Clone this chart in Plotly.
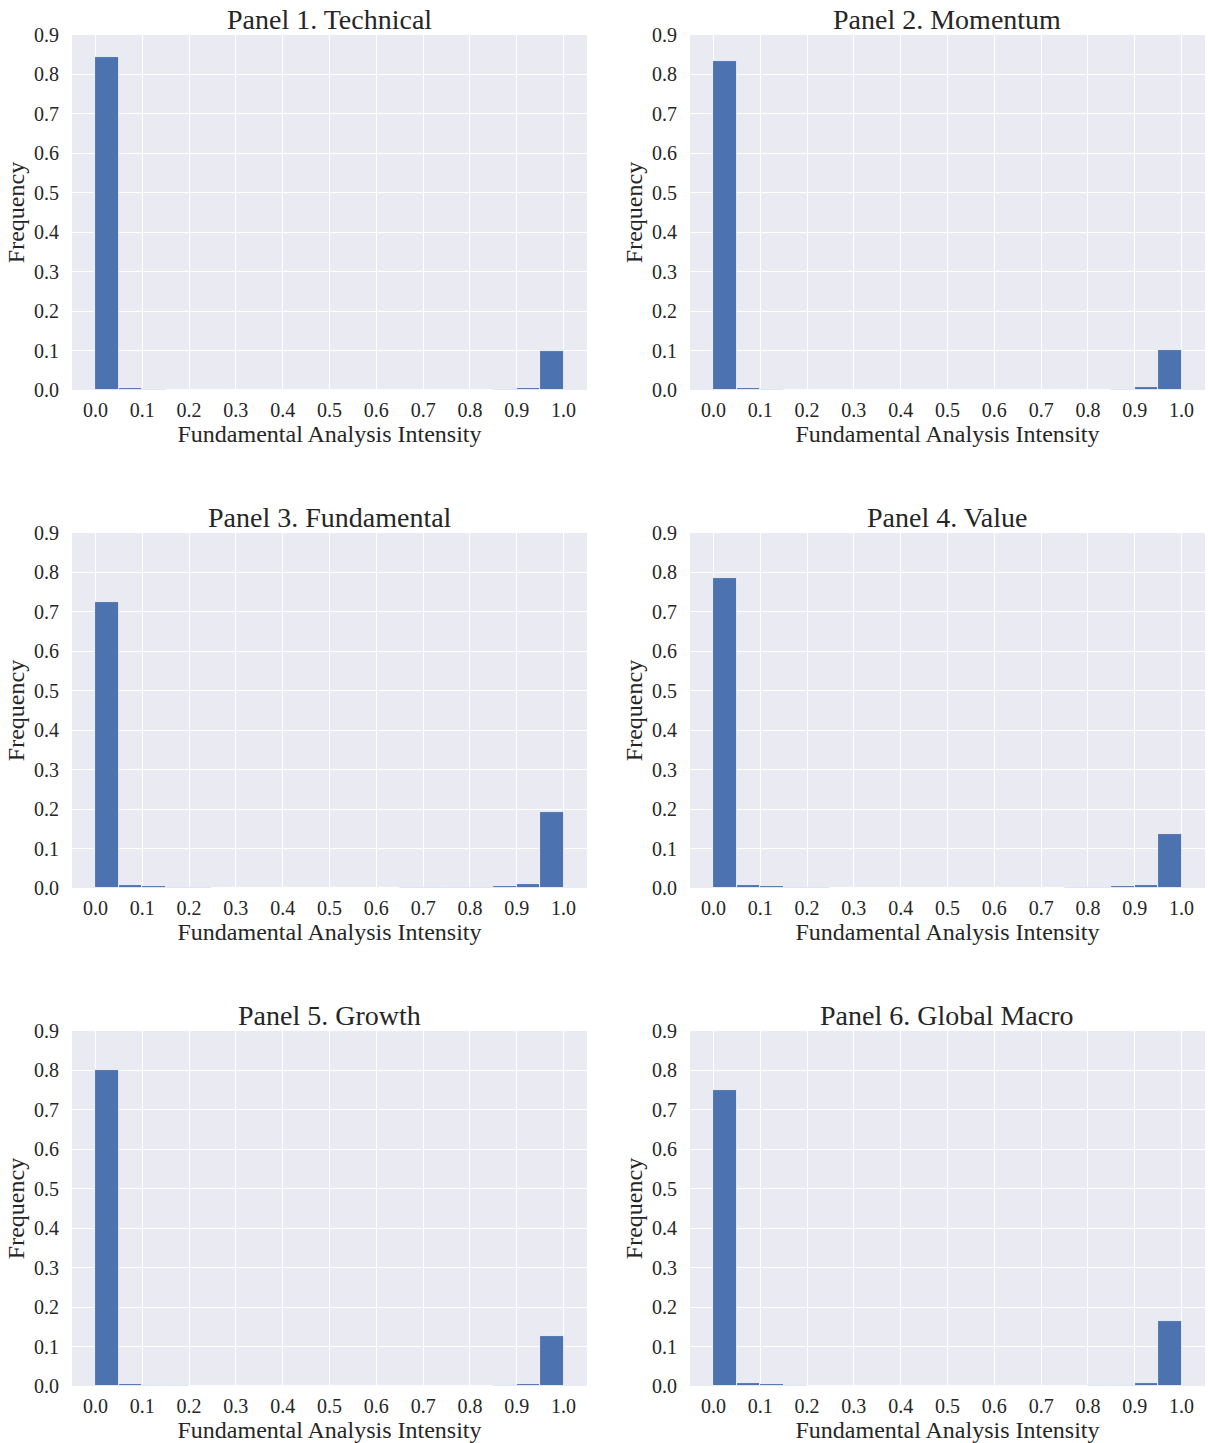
import plotly.graph_objects as go
from plotly.subplots import make_subplots

# ---- data ----
bin_edges = [round(i * 0.05, 2) for i in range(21)]
panel_titles = ["Panel 1. Technical", "Panel 2. Momentum", "Panel 3. Fundamental",
                "Panel 4. Value", "Panel 5. Growth", "Panel 6. Global Macro"]

technical = [0.845, 0.005, 0.003, 0.001, 0.001, 0.0005, 0.0005, 0.0005, 0.0005, 0.0005,
             0.0005, 0.0005, 0.0005, 0.0005, 0.0005, 0.0005, 0.001, 0.002, 0.006, 0.099]
momentum = [0.835, 0.006, 0.003, 0.001, 0.001, 0.0005, 0.0005, 0.0005, 0.0005, 0.0005,
            0.0005, 0.0005, 0.0005, 0.0005, 0.0005, 0.001, 0.001, 0.002, 0.007, 0.102]
fundamental = [0.725, 0.007, 0.004, 0.002, 0.002, 0.001, 0.001, 0.0005, 0.001, 0.001,
               0.0005, 0.001, 0.001, 0.002, 0.002, 0.002, 0.003, 0.005, 0.010, 0.192]
value = [0.787, 0.007, 0.004, 0.002, 0.002, 0.001, 0.0005, 0.0005, 0.0005, 0.0005,
         0.0005, 0.0005, 0.0005, 0.0005, 0.001, 0.002, 0.002, 0.004, 0.008, 0.138]
growth = [0.800, 0.006, 0.003, 0.002, 0.001, 0.001, 0.0005, 0.0005, 0.0005, 0.0005,
          0.0005, 0.0005, 0.0005, 0.0005, 0.0005, 0.001, 0.001, 0.002, 0.006, 0.127]
global_macro = [0.750, 0.008, 0.004, 0.003, 0.001, 0.001, 0.0005, 0.0005, 0.0005, 0.0005,
                0.0005, 0.0005, 0.0005, 0.0005, 0.001, 0.001, 0.002, 0.003, 0.008, 0.165]
series = [technical, momentum, fundamental, value, growth, global_macro]

x_ticks = [round(i * 0.1, 1) for i in range(11)]
y_ticks = [round(i * 0.1, 1) for i in range(10)]

# ---- figure ----
FONT = "Liberation Serif, Times New Roman, serif"
TXT = "#262626"
W, H = 1208, 1443
col_dom = [(72 / W, 587 / W), (690 / W, 1205 / W)]
row_px = [(35, 390), (533, 888), (1031, 1386)]
row_dom = [(1 - b / H, 1 - t / H) for t, b in row_px]

fig = make_subplots(rows=3, cols=2)
centers = [(bin_edges[i] + bin_edges[i + 1]) / 2 for i in range(20)]
widths = [bin_edges[i + 1] - bin_edges[i] for i in range(20)]

for k, vals in enumerate(series):
    r, c = k // 2 + 1, k % 2 + 1
    fig.add_trace(go.Bar(x=centers, y=vals, width=widths,
                         marker=dict(color="#4C72B0", line=dict(color="white", width=0.8)),
                         showlegend=False), row=r, col=c)
    axn = "" if k == 0 else str(k + 1)
    fig.layout["xaxis" + axn].update(
        domain=col_dom[c - 1], range=[-0.05, 1.05], tickvals=x_ticks,
        ticktext=[f"{v:.1f}" for v in x_ticks], showgrid=True, gridcolor="white",
        gridwidth=1, zeroline=False, ticks="outside", ticklen=2, automargin=False,
        tickcolor="rgba(0,0,0,0)", tickfont=dict(size=20, color=TXT, family=FONT),
        title=dict(text="Fundamental Analysis Intensity", standoff=0,
                   font=dict(size=24, color=TXT, family=FONT)))
    fig.layout["yaxis" + axn].update(
        domain=row_dom[r - 1], range=[0, 0.9], tickvals=y_ticks,
        ticktext=[f"{v:.1f}" for v in y_ticks], showgrid=True, gridcolor="white",
        gridwidth=1, zeroline=False, ticks="outside", ticklen=8, automargin=False,
        tickcolor="rgba(0,0,0,0)", tickfont=dict(size=20, color=TXT, family=FONT),
        title=dict(text="Frequency", standoff=2,
                   font=dict(size=24, color=TXT, family=FONT)))
    fig.add_annotation(text=panel_titles[k], xref="paper", yref="paper",
                       x=sum(col_dom[c - 1]) / 2, y=row_dom[r - 1][1],
                       xanchor="center", yanchor="bottom", yshift=-2, showarrow=False,
                       font=dict(size=28, color=TXT, family=FONT))

fig.update_layout(width=W, height=H, margin=dict(l=0, r=0, t=0, b=0),
                  plot_bgcolor="#EAEAF2", paper_bgcolor="white", bargap=0,
                  font=dict(family=FONT, color=TXT))

fig.write_html("out.html", config={"displayModeBar": False},
               post_script="document.body.style.margin='0';")
